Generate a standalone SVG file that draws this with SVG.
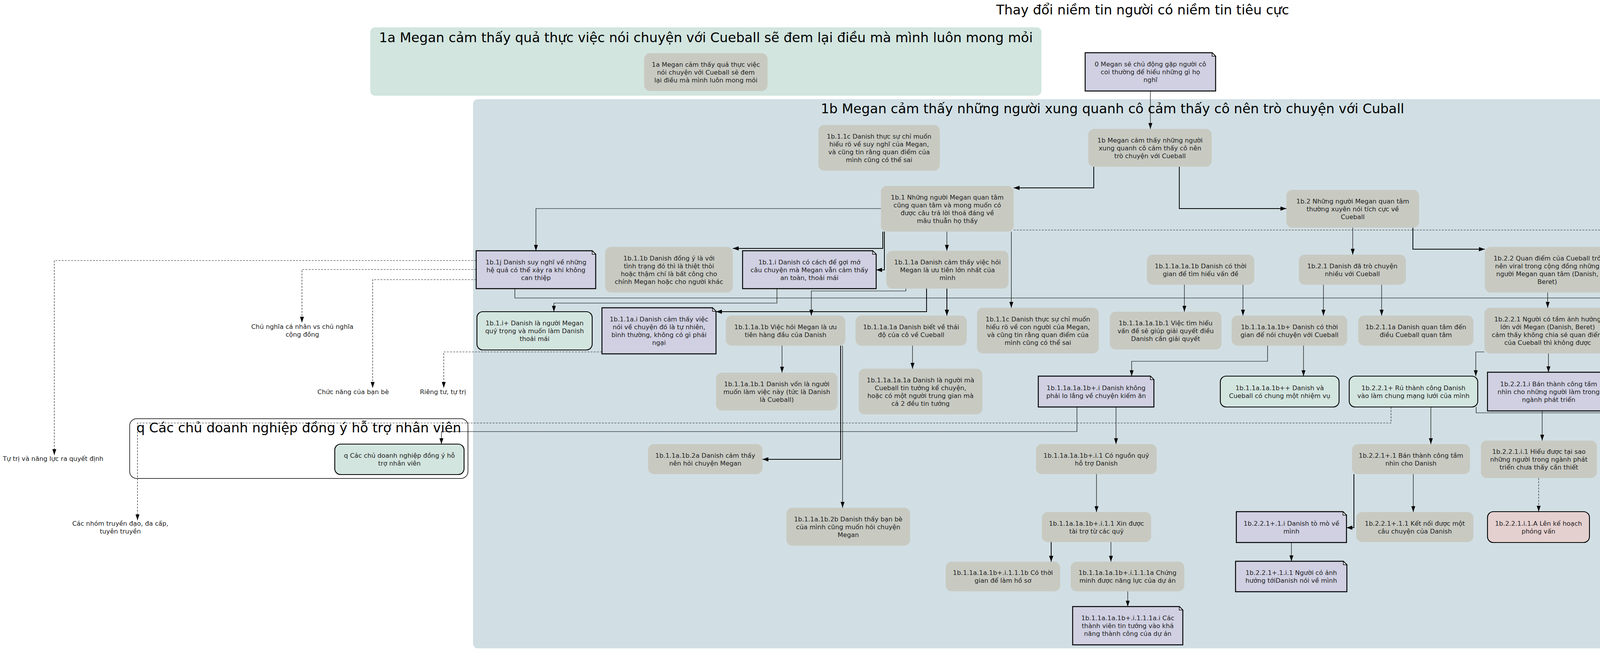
<svg xmlns="http://www.w3.org/2000/svg" width="5851" height="1677" viewBox="0 0 5851 1677">
<style>
.gray{fill:#c8cac2}
.note{fill:#d0d0e2;stroke:#000;stroke-width:2.4}
.fold{fill:#eef0f4;stroke:#000;stroke-width:1.5}
.green{fill:#d3e5df;stroke:#000;stroke-width:2.2}
.pink{fill:#e5d0d0;stroke:#000;stroke-width:2.2}
.t{font-family:"DejaVu Sans",sans-serif;font-size:16.3px;fill:#222;text-anchor:middle}
.big{font-family:"DejaVu Sans",sans-serif;font-size:34px;fill:#000;text-anchor:middle}
.e{fill:none;stroke:#000;stroke-width:1.2;marker-end:url(#ah)}
.eb{fill:none;stroke:#000;stroke-width:2;marker-end:url(#ahb)}
.ed{fill:none;stroke:#222;stroke-width:1.2;stroke-dasharray:5,3;marker-end:url(#ah)}
.cl{fill:#fff;stroke:#000;stroke-width:1.5}
</style>
<defs>
<marker id="ah" viewBox="0 0 15 10" refX="15" refY="5" markerWidth="15" markerHeight="10" orient="auto" markerUnits="userSpaceOnUse"><path d="M0,0L15,5L0,10Z" fill="#000"/></marker>
<marker id="ahb" viewBox="0 0 15 11" refX="15" refY="5.5" markerWidth="15" markerHeight="11" orient="auto" markerUnits="userSpaceOnUse"><path d="M0,0L15,5.5L0,11Z" fill="#000"/></marker>
</defs>
<rect width="5851" height="1677" fill="#fff"/>
<text class="big" x="2925" y="37">Thay đổi niềm tin người có niềm tin tiêu cực</text>
<g id="clusters">
<g id="cluster_1a"><rect x="948" y="70" width="1718" height="175" rx="12" fill="#d2e5df"/><text class="big" x="1807" y="108">1a Megan cảm thấy quả thực việc nói chuyện với Cueball sẽ đem lại điều mà mình luôn mong mỏi</text></g>
<g id="cluster_1b"><rect x="1211" y="254" width="3275" height="1406" rx="12" fill="#d1dfe4"/><text class="big" x="2848" y="290">1b Megan cảm thấy những người xung quanh cô cảm thấy cô nên trò chuyện với Cuball</text></g>
<g id="cluster_q"><rect class="cl" x="332" y="1072" width="866" height="153" rx="18"/><text class="big" x="765" y="1107">q Các chủ doanh nghiệp đồng ý hỗ trợ nhân viên</text></g>
<g id="cluster_r"><rect class="cl" x="4499" y="1082" width="614" height="133" rx="18"/><text class="big" x="4806" y="1118">r Cộng đồng bạn bè QC phát triển</text></g>
<g id="cluster_n"><rect class="cl" x="4496" y="1236" width="1338" height="173" rx="18"/><text class="big" x="5165" y="1271">n Tổ chức thành công cuộc đối thoại giữa những người khác biệt quan điểm</text></g>
</g>
<g id="connectors">
<path class="e" d="M2945,233V330"/>
<path class="eb" d="M2800,427V481H2595"/>
<path class="eb" d="M3019,427V534H3293"/>
<path class="e" d="M2255,534H1372V642"/>
<path class="eb" d="M2260,593V636H1876"/>
<path class="eb" d="M2264,593V691H2243"/>
<path class="e" d="M2424,593V642"/>
<path class="e" d="M2589,593V788"/>
<path class="ed" d="M2595,589H5253V993"/>
<path class="e" d="M3463,583V652"/>
<path class="eb" d="M3617,583V638H3801"/>
<path class="e" d="M4121,691H4313V787"/>
<path class="e" d="M1318,739V763H5026V1301"/>
<path class="ed" d="M1219,667H139V1165"/>
<path class="ed" d="M1219,690H773V826"/>
<path class="ed" d="M1219,716H954V993"/>
<path class="e" d="M1989,739V776H1418V798"/>
<path class="e" d="M2319,739V745H2077V808"/>
<path class="eb" d="M2372,739V798H1833"/>
<path class="eb" d="M2424,739V808"/>
<path class="ed" d="M1541,901H1136V993"/>
<path class="e" d="M2002,885V954"/>
<path class="e" d="M2336,885V944"/>
<path class="eb" d="M2152,885V1176H1952"/>
<path class="e" d="M2157,885V1300"/>
<path class="e" d="M3032,729V798"/>
<path class="e" d="M3182,729V808"/>
<path class="e" d="M3388,729V808"/>
<path class="e" d="M3537,729V808"/>
<path class="e" d="M3962,749V788"/>
<path class="e" d="M3245,885V925H2897V963"/>
<path class="e" d="M3337,885V963"/>
<path class="e" d="M3800,901H3778V963"/>
<path class="e" d="M3964,905V953"/>
<path class="e" d="M4310,905V954"/>
<path class="e" d="M2757,1042V1105H1130V1137"/>
<path class="e" d="M2857,1042V1137"/>
<path class="ed" d="M3561,1042V1083H352V1332"/>
<path class="e" d="M3663,1042V1137"/>
<path class="e" d="M3779,1042V1057H4677V1146"/>
<path class="e" d="M4101,1052V1307H4876"/>
<path class="e" d="M3948,1052V1128"/>
<path class="e" d="M4292,1051V1128"/>
<path class="e" d="M4435,1214H4631V1321"/>
<path class="e" d="M2807,1214V1311"/>
<path class="eb" d="M2691,1388V1438"/>
<path class="e" d="M2844,1388V1438"/>
<path class="e" d="M2887,1514V1553"/>
<path class="e" d="M3618,1214V1311"/>
<path class="eb" d="M3466,1214V1351H3447"/>
<path class="e" d="M3306,1389V1437"/>
<path class="ed" d="M3939,1224V1310"/>
</g>
<g id="nodes">
<g id="n0"><path class="note" d="M2778,135H3103L3112,144V233H2778Z"/><path class="fold" d="M3103,135V144H3112Z"/><text class="t" x="2945" y="170">0 Megan sẽ chủ động gặp người cô</text><text class="t" x="2945" y="190">coi thường để hiểu những gì họ</text><text class="t" x="2945" y="210">nghĩ</text></g>
<g id="n1a"><rect class="gray" x="1649" y="136" width="316" height="97" rx="15"/><text class="t" x="1807" y="170.5">1a Megan cảm thấy quả thực việc</text><text class="t" x="1807" y="190.5">nói chuyện với Cueball sẽ đem</text><text class="t" x="1807" y="210.5">lại điều mà mình luôn mong mỏi</text></g>
<g id="n1b"><rect class="gray" x="2786" y="330" width="316" height="97" rx="15"/><text class="t" x="2944" y="364.5">1b Megan cảm thấy những người</text><text class="t" x="2944" y="384.5">xung quanh cô cảm thấy cô nên</text><text class="t" x="2944" y="404.5">trò chuyện với Cueball</text></g>
<g id="n1b_1_1c_a"><rect class="gray" x="2095" y="320" width="311" height="117" rx="15"/><text class="t" x="2250.5" y="354.5">1b.1.1c Danish thực sự chỉ muốn</text><text class="t" x="2250.5" y="374.5">hiểu rõ về suy nghĩ của Megan,</text><text class="t" x="2250.5" y="394.5">và cũng tin rằng quan điểm của</text><text class="t" x="2250.5" y="414.5">mình cũng có thể sai</text></g>
<g id="n1b_1"><rect class="gray" x="2255" y="476" width="340" height="117" rx="15"/><text class="t" x="2425" y="510.5">1b.1 Những người Megan quan tâm</text><text class="t" x="2425" y="530.5">cũng quan tâm và mong muốn có</text><text class="t" x="2425" y="550.5">được câu trả lời thoả đáng về</text><text class="t" x="2425" y="570.5">mâu thuẫn họ thấy</text></g>
<g id="n1b_2"><rect class="gray" x="3293" y="486" width="340" height="97" rx="15"/><text class="t" x="3463" y="520.5">1b.2 Những người Megan quan tâm</text><text class="t" x="3463" y="540.5">thường xuyên nói tích cực về</text><text class="t" x="3463" y="560.5">Cueball</text></g>
<g id="n1b_1j"><path class="note" d="M1219,642H1516L1525,651V739H1219Z"/><path class="fold" d="M1516,642V651H1525Z"/><text class="t" x="1372" y="676.5">1b.1j Danish suy nghĩ về những</text><text class="t" x="1372" y="696.5">hệ quả có thể xảy ra khi không</text><text class="t" x="1372" y="716.5">can thiệp</text></g>
<g id="n1b_1_1b"><rect class="gray" x="1549" y="632" width="327" height="117" rx="15"/><text class="t" x="1712.5" y="666.5">1b.1.1b Danish đồng ý là với</text><text class="t" x="1712.5" y="686.5">tình trạng đó thì là thiệt thòi</text><text class="t" x="1712.5" y="706.5">hoặc thậm chí là bất công cho</text><text class="t" x="1712.5" y="726.5">chính Megan hoặc cho người khác</text></g>
<g id="n1b_1_i"><path class="note" d="M1901,642H2234L2243,651V739H1901Z"/><path class="fold" d="M2234,642V651H2243Z"/><text class="t" x="2072" y="676.5">1b.1.i Danish có cách để gợi mở</text><text class="t" x="2072" y="696.5">câu chuyện mà Megan vẫn cảm thấy</text><text class="t" x="2072" y="716.5">an toàn, thoải mái</text></g>
<g id="n1b_1_1a"><rect class="gray" x="2269" y="642" width="313" height="97" rx="15"/><text class="t" x="2425.5" y="676.5">1b.1.1a Danish cảm thấy việc hỏi</text><text class="t" x="2425.5" y="696.5">Megan là ưu tiên lớn nhất của</text><text class="t" x="2425.5" y="716.5">mình</text></g>
<g id="n1b_1_1a_1a_1b"><rect class="gray" x="2936" y="652" width="275" height="77" rx="15"/><text class="t" x="3073.5" y="686.5">1b.1.1a.1a.1b Danish có thời</text><text class="t" x="3073.5" y="706.5">gian để tìm hiểu vấn đề</text></g>
<g id="n1b_2_1"><rect class="gray" x="3325" y="652" width="274" height="77" rx="15"/><text class="t" x="3462" y="686.5">1b.2.1 Danish đã trò chuyện</text><text class="t" x="3462" y="706.5">nhiều với Cueball</text></g>
<g id="n1b_2_2"><rect class="gray" x="3801" y="632" width="320" height="117" rx="15"/><text class="t" x="3961" y="666.5">1b.2.2 Quan điểm của Cueball trở</text><text class="t" x="3961" y="686.5">nên viral trong cộng đồng những</text><text class="t" x="3961" y="706.5">người Megan quan tâm (Danish,</text><text class="t" x="3961" y="726.5">Beret)</text></g>
<g id="n1b_1_ip"><rect class="green" x="1221" y="798" width="295" height="98" rx="15"/><text class="t" x="1368.5" y="833">1b.1.i+ Danish là người Megan</text><text class="t" x="1368.5" y="853">quý trọng và muốn làm Danish</text><text class="t" x="1368.5" y="873">thoải mái</text></g>
<g id="n1b_1_1a_i"><path class="note" d="M1541,788H1824L1833,797V906H1541Z"/><path class="fold" d="M1824,788V797H1833Z"/><text class="t" x="1687" y="823">1b.1.1a.i Danish cảm thấy việc</text><text class="t" x="1687" y="843">nói về chuyện đó là tự nhiên,</text><text class="t" x="1687" y="863">bình thường, không có gì phải</text><text class="t" x="1687" y="883">ngại</text></g>
<g id="n1b_1_1a_1b"><rect class="gray" x="1858" y="808" width="306" height="77" rx="15"/><text class="t" x="2011" y="842.5">1b.1.1a.1b Việc hỏi Megan là ưu</text><text class="t" x="2011" y="862.5">tiên hàng đầu của Danish</text></g>
<g id="n1b_1_1a_1a"><rect class="gray" x="2190" y="808" width="285" height="77" rx="15"/><text class="t" x="2332.5" y="842.5">1b.1.1a.1a Danish biết về thái</text><text class="t" x="2332.5" y="862.5">độ của cô về Cueball</text></g>
<g id="n1b_1_1c_b"><rect class="gray" x="2501" y="788" width="312" height="117" rx="15"/><text class="t" x="2657" y="822.5">1b.1.1c Danish thực sự chỉ muốn</text><text class="t" x="2657" y="842.5">hiểu rõ về con người của Megan,</text><text class="t" x="2657" y="862.5">và cũng tin rằng quan điểm của</text><text class="t" x="2657" y="882.5">mình cũng có thể sai</text></g>
<g id="n1b_1_1a_1a_1b_1"><rect class="gray" x="2841" y="798" width="286" height="97" rx="15"/><text class="t" x="2984" y="832.5">1b.1.1a.1a.1b.1 Việc tìm hiểu</text><text class="t" x="2984" y="852.5">vấn đề sẽ giúp giải quyết điều</text><text class="t" x="2984" y="872.5">Danish cần giải quyết</text></g>
<g id="n1b_1_1a_1a_1bp"><rect class="gray" x="3153" y="808" width="296" height="77" rx="15"/><text class="t" x="3301" y="842.5">1b.1.1a.1a.1b+ Danish có thời</text><text class="t" x="3301" y="862.5">gian để nói chuyện với Cueball</text></g>
<g id="n1b_2_1_1a"><rect class="gray" x="3477" y="808" width="295" height="77" rx="15"/><text class="t" x="3624.5" y="842.5">1b.2.1.1a Danish quan tâm đến</text><text class="t" x="3624.5" y="862.5">điều Cueball quan tâm</text></g>
<g id="n1b_2_2_1"><rect class="gray" x="3800" y="788" width="324" height="117" rx="15"/><text class="t" x="3962" y="822.5">1b.2.2.1 Người có tầm ảnh hưởng</text><text class="t" x="3962" y="842.5">lớn với Megan (Danish, Beret)</text><text class="t" x="3962" y="862.5">cảm thấy không chia sẻ quan điểm</text><text class="t" x="3962" y="882.5">của Cueball thì không được</text></g>
<g id="n1b_2_2_i"><path class="note" d="M4150,787H4465L4474,796V905H4150Z"/><path class="fold" d="M4465,787V796H4474Z"/><text class="t" x="4312" y="822">1b.2.2.i Những người cũng có</text><text class="t" x="4312" y="842">hứng thú với quan điểm của</text><text class="t" x="4312" y="862">Cueball cũng cảm thấy không chia</text><text class="t" x="4312" y="882">sẻ thì không được</text></g>
<g id="n1b_1_1a_1b_1"><rect class="gray" x="1833" y="954" width="311" height="97" rx="15"/><text class="t" x="1988.5" y="988.5">1b.1.1a.1b.1 Danish vốn là người</text><text class="t" x="1988.5" y="1008.5">muốn làm việc này (tức là Danish</text><text class="t" x="1988.5" y="1028.5">là Cueball)</text></g>
<g id="n1b_1_1a_1a_1a"><rect class="gray" x="2198" y="944" width="317" height="117" rx="15"/><text class="t" x="2356.5" y="978.5">1b.1.1a.1a.1a Danish là người mà</text><text class="t" x="2356.5" y="998.5">Cueball tin tưởng kể chuyện,</text><text class="t" x="2356.5" y="1018.5">hoặc có một người trung gian mà</text><text class="t" x="2356.5" y="1038.5">cả 2 đều tin tưởng</text></g>
<g id="n1b_1_1a_1a_1bp_i"><path class="note" d="M2658,963H2945L2954,972V1042H2658Z"/><path class="fold" d="M2945,963V972H2954Z"/><text class="t" x="2806" y="998.5">1b.1.1a.1a.1b+.i Danish không</text><text class="t" x="2806" y="1018.5">phải lo lắng về chuyện kiếm ăn</text></g>
<g id="n1b_1_1a_1a_1bpp"><rect class="green" x="3124" y="963" width="304" height="79" rx="15"/><text class="t" x="3276" y="998.5">1b.1.1a.1a.1b++ Danish và</text><text class="t" x="3276" y="1018.5">Cueball có chung một nhiệm vụ</text></g>
<g id="n1b_2_2_1p"><rect class="green" x="3454" y="963" width="329" height="79" rx="15"/><text class="t" x="3618.5" y="998.5">1b.2.2.1+ Rủ thành công Danish</text><text class="t" x="3618.5" y="1018.5">vào làm chung mạng lưới của mình</text></g>
<g id="n1b_2_2_1_i"><path class="note" d="M3808,953H4112L4121,962V1052H3808Z"/><path class="fold" d="M4112,953V962H4121Z"/><text class="t" x="3964.5" y="988.5">1b.2.2.1.i Bán thành công tầm</text><text class="t" x="3964.5" y="1008.5">nhìn cho những người làm trong</text><text class="t" x="3964.5" y="1028.5">ngành phát triển</text></g>
<g id="n1b_2_2_ip"><rect class="green" x="4147" y="954" width="321" height="97" rx="15"/><text class="t" x="4307.5" y="988.5">1b.2.2.i+ Biến thành công những</text><text class="t" x="4307.5" y="1008.5">người có hứng thú với quan điểm</text><text class="t" x="4307.5" y="1028.5">của Cueball thành đồng minh</text></g>
<g id="n_q"><rect class="green" x="857" y="1137" width="331" height="78" rx="15"/><text class="t" x="1022.5" y="1172">q Các chủ doanh nghiệp đồng ý hỗ</text><text class="t" x="1022.5" y="1192">trợ nhân viên</text></g>
<g id="n1b_1_1a_1b_2a"><rect class="gray" x="1659" y="1137" width="293" height="77" rx="15"/><text class="t" x="1805.5" y="1171.5">1b.1.1a.1b.2a Danish cảm thấy</text><text class="t" x="1805.5" y="1191.5">nên hỏi chuyện Megan</text></g>
<g id="n_i1"><rect class="gray" x="2652" y="1137" width="309" height="77" rx="15"/><text class="t" x="2806.5" y="1171.5">1b.1.1a.1a.1b+.i.1 Có nguồn quỹ</text><text class="t" x="2806.5" y="1191.5">hỗ trợ Danish</text></g>
<g id="n1b_2_2_1p_1"><rect class="gray" x="3461" y="1137" width="302" height="77" rx="15"/><text class="t" x="3612" y="1171.5">1b.2.2.1+.1 Bán thành công tầm</text><text class="t" x="3612" y="1191.5">nhìn cho Danish</text></g>
<g id="n1b_2_2_1_i_1"><rect class="gray" x="3791" y="1128" width="297" height="96" rx="15"/><text class="t" x="3939.5" y="1162">1b.2.2.1.i.1 Hiểu được tại sao</text><text class="t" x="3939.5" y="1182">những người trong ngành phát</text><text class="t" x="3939.5" y="1202">triển chưa thấy cần thiết</text></g>
<g id="n1b_2_2_ip_1"><rect class="gray" x="4114" y="1128" width="321" height="96" rx="15"/><text class="t" x="4274.5" y="1162">1b.2.2.i+.1 Cueball có cách để</text><text class="t" x="4274.5" y="1182">liên lạc được với những người có</text><text class="t" x="4274.5" y="1202">hứng thú với quan điểm của mình</text></g>
<g id="n_r"><path class="note" d="M4513,1146H4831L4840,1155V1205H4513Z"/><path class="fold" d="M4831,1146V1155H4840Z"/><text class="t" x="4676.5" y="1181.5">r Cộng đồng bạn bè QC phát triển</text></g>
<g id="n1b_1_1a_1b_2b"><rect class="gray" x="2013" y="1300" width="317" height="97" rx="15"/><text class="t" x="2171.5" y="1334.5">1b.1.1a.1b.2b Danish thấy bạn bè</text><text class="t" x="2171.5" y="1354.5">của mình cũng muốn hỏi chuyện</text><text class="t" x="2171.5" y="1374.5">Megan</text></g>
<g id="n_i11"><rect class="gray" x="2667" y="1311" width="280" height="77" rx="15"/><text class="t" x="2807" y="1345.5">1b.1.1a.1a.1b+.i.1.1 Xin được</text><text class="t" x="2807" y="1365.5">tài trợ từ các quỹ</text></g>
<g id="n1b_2_2_1p_1_i"><path class="note" d="M3165,1310H3438L3447,1319V1389H3165Z"/><path class="fold" d="M3438,1310V1319H3447Z"/><text class="t" x="3306" y="1345.5">1b.2.2.1+.1.i Danish tò mò về</text><text class="t" x="3306" y="1365.5">mình</text></g>
<g id="n1b_2_2_1p_1_1"><rect class="gray" x="3472" y="1311" width="300" height="77" rx="15"/><text class="t" x="3622" y="1345.5">1b.2.2.1+.1.1 Kết nối được một</text><text class="t" x="3622" y="1365.5">câu chuyện của Danish</text></g>
<g id="n1b_2_2_1_i_1_A"><rect class="pink" x="3808" y="1310" width="261" height="79" rx="15"/><text class="t" x="3938.5" y="1345.5">1b.2.2.1.i.1.A Lên kế hoạch</text><text class="t" x="3938.5" y="1365.5">phỏng vấn</text></g>
<g id="n_nI"><path class="note" d="M4508,1321H4742L4751,1330V1379H4508Z"/><path class="fold" d="M4742,1321V1330H4751Z"/><text class="t" x="4629.5" y="1356">n.I Có một bài được viral</text></g>
<g id="n_n"><rect class="gray" x="4878" y="1301" width="316" height="97" rx="15"/><text class="t" x="5036" y="1335.5">n Tổ chức thành công cuộc đối</text><text class="t" x="5036" y="1355.5">thoại giữa những người khác biệt</text><text class="t" x="5036" y="1375.5">quan điểm</text></g>
<g id="n1b_2_2_1p_1_i_1"><path class="note" d="M3163,1437H3439L3448,1446V1515H3163Z"/><path class="fold" d="M3439,1437V1446H3448Z"/><text class="t" x="3305.5" y="1472">1b.2.2.1+.1.i.1 Người có ảnh</text><text class="t" x="3305.5" y="1492">hưởng tớiDanish nói về mình</text></g>
<g id="n_i111b"><rect class="gray" x="2421" y="1438" width="293" height="76" rx="15"/><text class="t" x="2567.5" y="1472">1b.1.1a.1a.1b+.i.1.1.1b Có thời</text><text class="t" x="2567.5" y="1492">gian để làm hồ sơ</text></g>
<g id="n_i111a"><rect class="gray" x="2741" y="1438" width="291" height="76" rx="15"/><text class="t" x="2886.5" y="1472">1b.1.1a.1a.1b+.i.1.1.1a Chứng</text><text class="t" x="2886.5" y="1492">minh được năng lực của dự án</text></g>
<g id="n_i111a_i"><path class="note" d="M2746,1553H3019L3028,1562V1651H2746Z"/><path class="fold" d="M3019,1553V1562H3028Z"/><text class="t" x="2887" y="1588">1b.1.1a.1a.1b+.i.1.1.1a.i Các</text><text class="t" x="2887" y="1608">thành viên tin tưởng vào khả</text><text class="t" x="2887" y="1628">năng thành công của dự án</text></g>
<g id="l_tutri"><text class="t" x="136" y="1180">Tự trị và năng lực ra quyết định</text></g>
<g id="l_chunghia"><text class="t" x="774" y="842">Chủ nghĩa cá nhân vs chủ nghĩa</text><text class="t" x="774" y="862">cộng đồng</text></g>
<g id="l_chucnang"><text class="t" x="904" y="1009">Chức năng của bạn bè</text></g>
<g id="l_riengtu"><text class="t" x="1134" y="1009">Riêng tư, tự trị</text></g>
<g id="l_cacnhom"><text class="t" x="308" y="1346">Các nhóm truyền đạo, đa cấp,</text><text class="t" x="308" y="1366">tuyên truyền</text></g>
<g id="l_bieutinh"><text class="t" x="5253" y="1008">Biểu tình, tẩy chay</text></g>
</g>
</svg>
